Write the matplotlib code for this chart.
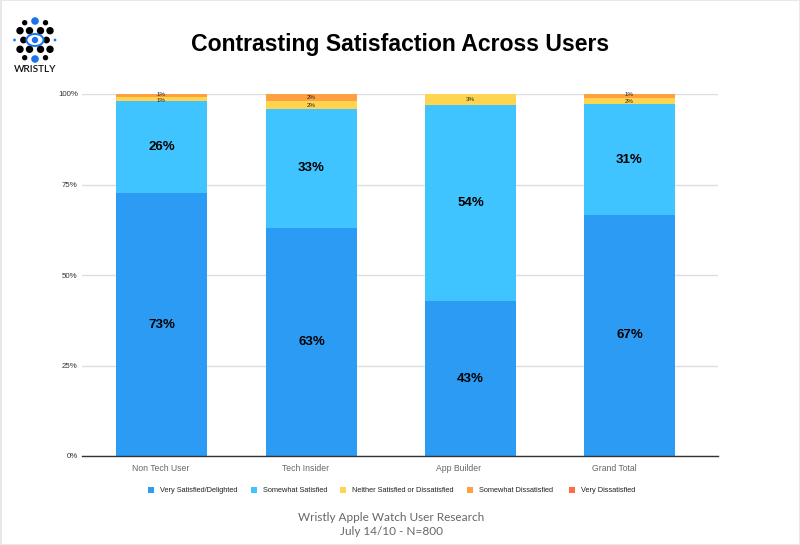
import matplotlib

matplotlib.use("Agg")
import matplotlib.pyplot as plt
from matplotlib.patches import Circle, Ellipse, Rectangle

plt.rcParams["font.family"] = ["Liberation Sans", "DejaVu Sans"]

W, H = 800, 545

categories = ["Non Tech User", "Tech Insider", "App Builder", "Grand Total"]
series_names = [
    "Very Satisfied/Delighted",
    "Somewhat Satisfied",
    "Neither Satisfied or Dissatisfied",
    "Somewhat Dissatisfied",
    "Very Dissatisfied",
]
# unrounded shares, labels round them
very_satisfied = [72.6, 63.0, 42.8, 66.6]
somewhat_satisfied = [25.51, 32.9, 54.2, 30.51]
neither = [0.95, 2.05, 3.0, 1.89]
somewhat_dissatisfied = [0.94, 2.05, 0, 1.0]
very_dissatisfied = [0, 0, 0, 0]
y_ticks = [0, 25, 50, 75, 100]

colors = ["#2b9bf4", "#40c4ff", "#ffd54f", "#ffa040", "#ff6e40"]
series = [very_satisfied, somewhat_satisfied, neither, somewhat_dissatisfied, very_dissatisfied]
# thin segments: push the two tiny labels apart a little
label_nudge = [0, 0, -0.35, 0.35, 0]

# bars and their labels are not quite lined up in the original
bar_x = [161.5, 311.5, 470.5, 629.5]
label_x = [161, 306, 459, 614]


def fx(px):
    return px / W


def fy(py):
    return 1 - py / H


fig = plt.figure(figsize=(W / 100, H / 100), dpi=100, facecolor="white")

ax = fig.add_axes([fx(82), fy(456), fx(718 - 82), (456 - 94) / H])
ax.set_xlim(82, 718)
ax.set_ylim(0, 100)
ax.set_axisbelow(True)
ax.grid(axis="y", color="#dedede", linewidth=1)
ax.set_yticks(y_ticks, [f"{t}%" for t in y_ticks], fontsize=5.7, color="#333333")
ax.set_xticks(label_x, categories, fontsize=6.2, color="#666666")
ax.tick_params(length=0)
ax.tick_params(axis="x", pad=6)
ax.tick_params(axis="y", pad=3)
for s in ["top", "right", "left"]:
    ax.spines[s].set_visible(False)
ax.spines["bottom"].set_color("#333333")
ax.spines["bottom"].set_linewidth(1)

bottom = [0, 0, 0, 0]
for vals, color, nudge in zip(series, colors, label_nudge):
    ax.bar(bar_x, vals, width=91, bottom=bottom, color=color, linewidth=0, clip_on=False)
    for x, b, v in zip(bar_x, bottom, vals):
        if v == 0:
            continue
        big = v >= 10
        ax.text(
            x,
            b + v / 2 + (nudge if v <= 1 else 0),
            f"{v:.0f}%",
            ha="center",
            va="center",
            fontsize=9.5 if big else 4.4,
            fontweight="bold" if big else "normal",
            color="black" if big else "#222222",
        )
    bottom = [b + v for b, v in zip(bottom, vals)]

fig.text(fx(400), fy(44.5), "Contrasting Satisfaction Across Users", ha="center", va="center",
         fontsize=16.6, fontweight="bold", color="black")

# legend, spaced by hand like the original
legend_swatch = [148, 251, 340, 467, 569]
for px, name, color in zip(legend_swatch, series_names, colors):
    fig.patches.append(Rectangle((fx(px), fy(492.5)), 6 / W, 6 / H, transform=fig.transFigure,
                                 facecolor=color, edgecolor="none"))
    fig.text(fx(px + 12), fy(490.5), name, ha="left", va="center", fontsize=5.3, color="#222222")

fig.text(fx(391.5), fy(517.5), "Wristly Apple Watch User Research", ha="center", va="center",
         fontsize=8.5, color="#666666", family=["Lato", "DejaVu Sans"])
fig.text(fx(391.5), fy(531.5), "July 14/10 - N=800", ha="center", va="center",
         fontsize=8.5, color="#666666", family=["Lato", "DejaVu Sans"])

# logo, drawn in pixel coordinates on an overlay axes
logo = fig.add_axes([0, 0, 1, 1], facecolor="none")
logo.set_xlim(0, W)
logo.set_ylim(H, 0)
logo.axis("off")
black_dots = [
    (24.7, 22.7, 2.7), (45.5, 22.7, 2.7),
    (20, 30.7, 3.7), (29.5, 30.7, 3.7), (40.5, 30.7, 3.7), (50, 30.7, 3.7),
    (23.5, 40, 3.4), (46.5, 40, 3.4),
    (20, 49.3, 3.7), (29.5, 49.3, 3.7), (40.5, 49.3, 3.7), (50, 49.3, 3.7),
    (24.7, 57.7, 2.7), (45.5, 57.7, 2.7),
]
for x, y, r in black_dots:
    logo.add_patch(Circle((x, y), r, color="black", lw=0))
for x, y, r in [(35, 21, 3.8), (35, 59, 3.8), (14.5, 40, 1.4), (55, 40, 1.4)]:
    logo.add_patch(Circle((x, y), r, color="#1a73e8", lw=0))
logo.add_patch(Ellipse((35, 40), 17, 12, facecolor="white", edgecolor="#1a73e8", lw=1.4))
logo.add_patch(Circle((35, 40), 3.2, color="#1a73e8", lw=0))
logo.text(35, 70, "WRISTLY", ha="center", va="center", fontsize=7.2, color="#111111",
          fontweight="semibold", family=["Lato", "DejaVu Sans"])

# thin grey frame of the screenshot
logo.add_patch(Rectangle((0, 0), W, 1, color="#e8e8e8", lw=0))
logo.add_patch(Rectangle((0, 0), 1.5, H, color="#e8e8e8", lw=0))
logo.add_patch(Rectangle((W - 1.5, 0), 1.5, H, color="#e8e8e8", lw=0))
logo.add_patch(Rectangle((0, H - 1.5), W, 1.5, color="#e8e8e8", lw=0))

fig.savefig("out.png", dpi=100)
